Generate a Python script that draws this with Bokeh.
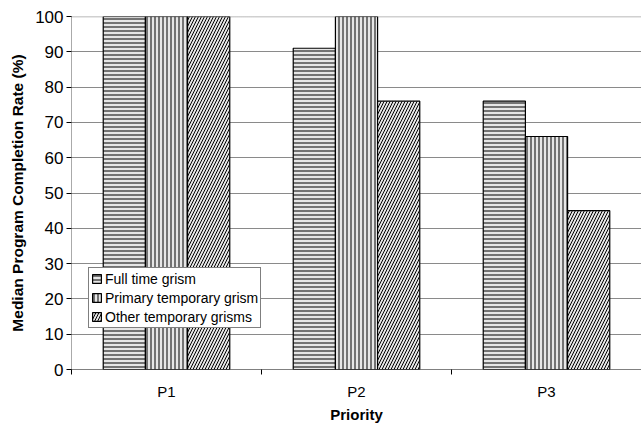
from bokeh.plotting import figure
from bokeh.models import Range1d, FixedTicker, Span, Legend, LegendItem, ColumnDataSource
from bokeh.embed import file_html
from bokeh.resources import INLINE

categories = ["P1", "P2", "P3"]
series = ["Full time grism", "Primary temporary grism", "Other temporary grisms"]
full_time = [100, 91, 76]
primary_temp = [100, 100, 66]
other_temp = [100, 76, 45]
y_ticks = [0, 10, 20, 30, 40, 50, 60, 70, 80, 90, 100]

values = [full_time, primary_temp, other_temp]
patterns = ["horizontal_line", "vertical_line", "right_diagonal_line"]
scales = [4, 4, 6]
bar_w = 0.222
offsets = [-bar_w, 0, bar_w]

p = figure(width=641, height=425, output_backend="svg", toolbar_location=None,
           x_range=Range1d(0, len(categories)), y_range=Range1d(0, 100),
           min_border_left=71, min_border_right=0, min_border_top=16, min_border_bottom=56)
p.outline_line_color = None
p.background_fill_color = "white"

items = []
for i, (vals, pat, sc, off) in enumerate(zip(values, patterns, scales, offsets)):
    xs = [k + 0.5 + off for k in range(len(categories))]
    src = ColumnDataSource(dict(x=xs, top=vals))
    r = p.vbar(x="x", top="top", width=bar_w, source=src, fill_color="#e6e6e6",
               line_color="black", line_width=1.2, hatch_pattern=pat,
               hatch_color="black", hatch_scale=sc, hatch_weight=1)
    items.append(LegendItem(label=series[i], renderers=[r]))

# axes
xa = p.xaxis[0]
xa.ticker = FixedTicker(ticks=[k + 0.5 for k in range(len(categories))],
                        minor_ticks=list(range(len(categories) + 1)))
xa.major_label_overrides = {k + 0.5: c for k, c in enumerate(categories)}
xa.major_tick_line_color = None
xa.major_tick_out = 0
xa.major_tick_in = 0
xa.minor_tick_line_color = "black"
xa.minor_tick_out = 5
xa.minor_tick_in = 0
xa.axis_line_color = "black"
xa.axis_line_dash = "1 1"
xa.major_label_text_font = "Liberation Sans"
xa.major_label_text_font_size = "15px"
xa.major_label_text_color = "black"
xa.major_label_standoff = 8
xa.axis_label = "Priority"
xa.axis_label_text_font = "Liberation Sans"
xa.axis_label_text_font_style = "bold"
xa.axis_label_text_font_size = "15px"
xa.axis_label_text_color = "black"
xa.axis_label_standoff = 3

ya = p.yaxis[0]
ya.ticker = FixedTicker(ticks=y_ticks)
ya.minor_tick_line_color = None
ya.major_tick_out = 5
ya.major_tick_in = 0
ya.axis_line_color = "#555555"
ya.axis_line_dash = "1 1"
ya.major_label_text_font = "Liberation Sans"
ya.major_label_text_font_size = "17px"
ya.major_label_text_color = "black"
ya.major_label_standoff = 3
ya.axis_label = "Median Program Completion Rate (%)"
ya.axis_label_text_font = "Liberation Sans"
ya.axis_label_text_font_style = "bold"
ya.axis_label_text_font_size = "15.5px"
ya.axis_label_text_color = "black"
ya.axis_label_standoff = 6

p.xgrid.grid_line_color = None
p.ygrid.ticker = FixedTicker(ticks=y_ticks[1:-1])
p.ygrid.grid_line_color = "#8a8a8a"
p.ygrid.grid_line_width = 1
p.ygrid.level = "underlay"

p.add_layout(Span(location=100, dimension="width", line_color="#444444",
                  line_dash="1 1", line_width=1.5))

legend = Legend(items=items, location=(17, 41), border_line_color="black",
                border_line_width=1, label_text_font="Liberation Sans",
                label_text_font_size="14px", label_text_color="black",
                glyph_width=11, glyph_height=11,
                label_height=17, spacing=2, padding=2, margin=0,
                label_standoff=3, background_fill_alpha=1)
p.add_layout(legend, "center")

open("out.html", "w").write(file_html(p, INLINE))
